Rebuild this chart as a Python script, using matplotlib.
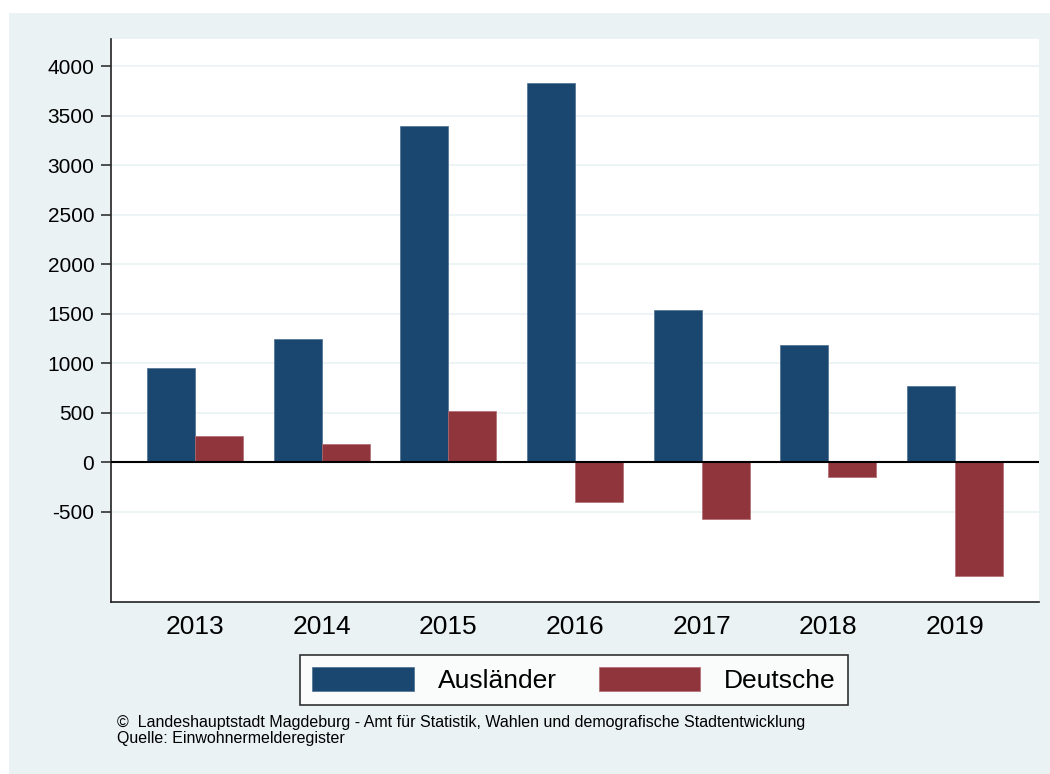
import numpy as np
import matplotlib.pyplot as plt
from matplotlib.patches import Rectangle

plt.rcParams['font.family'] = ['Liberation Sans', 'DejaVu Sans']

years = ['2013', '2014', '2015', '2016', '2017', '2018', '2019']
auslaender = [950, 1240, 3395, 3830, 1535, 1180, 765]
deutsche = [263, 182, 515, -404, -576, -150, -1152]
yticks = [-500, 0, 500, 1000, 1500, 2000, 2500, 3000, 3500, 4000]
footnote = ('©  Landeshauptstadt Magdeburg - Amt für Statistik, Wahlen und demografische Stadtentwicklung\n'
            'Quelle: Einwohnermelderegister')

navy = '#1a476f'
maroon = '#90353b'
bg = '#eaf2f3'

fig = plt.figure(figsize=(10.5, 7.74), dpi=100)
fig.patch.set_facecolor('white')
fig.patches.append(Rectangle((9 / 1050, 0), 1, 1 - 13 / 774, transform=fig.transFigure,
                             facecolor=bg, edgecolor='none', zorder=-10))

ax = fig.add_axes([111 / 1050, 1 - 602 / 774, (1039 - 111) / 1050, (602 - 39) / 774])
ax.set_facecolor('white')

x = np.arange(len(years))
w = 0.379
ax.bar(x - w / 2, auslaender, w, color=navy, label='Ausländer', zorder=3,
       edgecolor='#4a6f91', linewidth=0.5)
ax.bar(x + w / 2, deutsche, w, color=maroon, label='Deutsche', zorder=3,
       edgecolor='#b06a70', linewidth=0.5)

ax.set_xlim(-0.663, 6.663)
ax.set_ylim(-1414, 4273)
ax.set_yticks(yticks)
ax.set_yticklabels([str(v) for v in yticks], fontsize=15)
ax.set_xticks(x)
ax.set_xticklabels(years, fontsize=19)
ax.tick_params(axis='y', length=7, width=1.1, pad=5, color='#222222')
ax.tick_params(axis='x', length=0, pad=9)

ax.yaxis.grid(True, color=bg, linewidth=1.2, zorder=0)
ax.set_axisbelow(True)
ax.axhline(0, color='black', linewidth=1.5, zorder=4)

for s in ['top', 'right']:
    ax.spines[s].set_visible(False)
for s in ['left', 'bottom']:
    ax.spines[s].set_linewidth(1.2)
    ax.spines[s].set_color('#222222')

leg = fig.legend(loc='center', bbox_to_anchor=(574 / 1050, 1 - 680 / 774), ncol=2,
                 fontsize=19, frameon=True, fancybox=False, edgecolor='black',
                 handlelength=3.85, handleheight=1.05, handletextpad=0.9,
                 columnspacing=1.6, borderpad=0.45, borderaxespad=0)
leg.get_frame().set_linewidth(1.2)
leg.get_frame().set_facecolor('white')

fig.text(117 / 1050, 1 - 715 / 774, footnote, fontsize=11.5, va='top', ha='left',
         linespacing=1.05)

fig.savefig('out.png', dpi=100, facecolor=fig.get_facecolor())
